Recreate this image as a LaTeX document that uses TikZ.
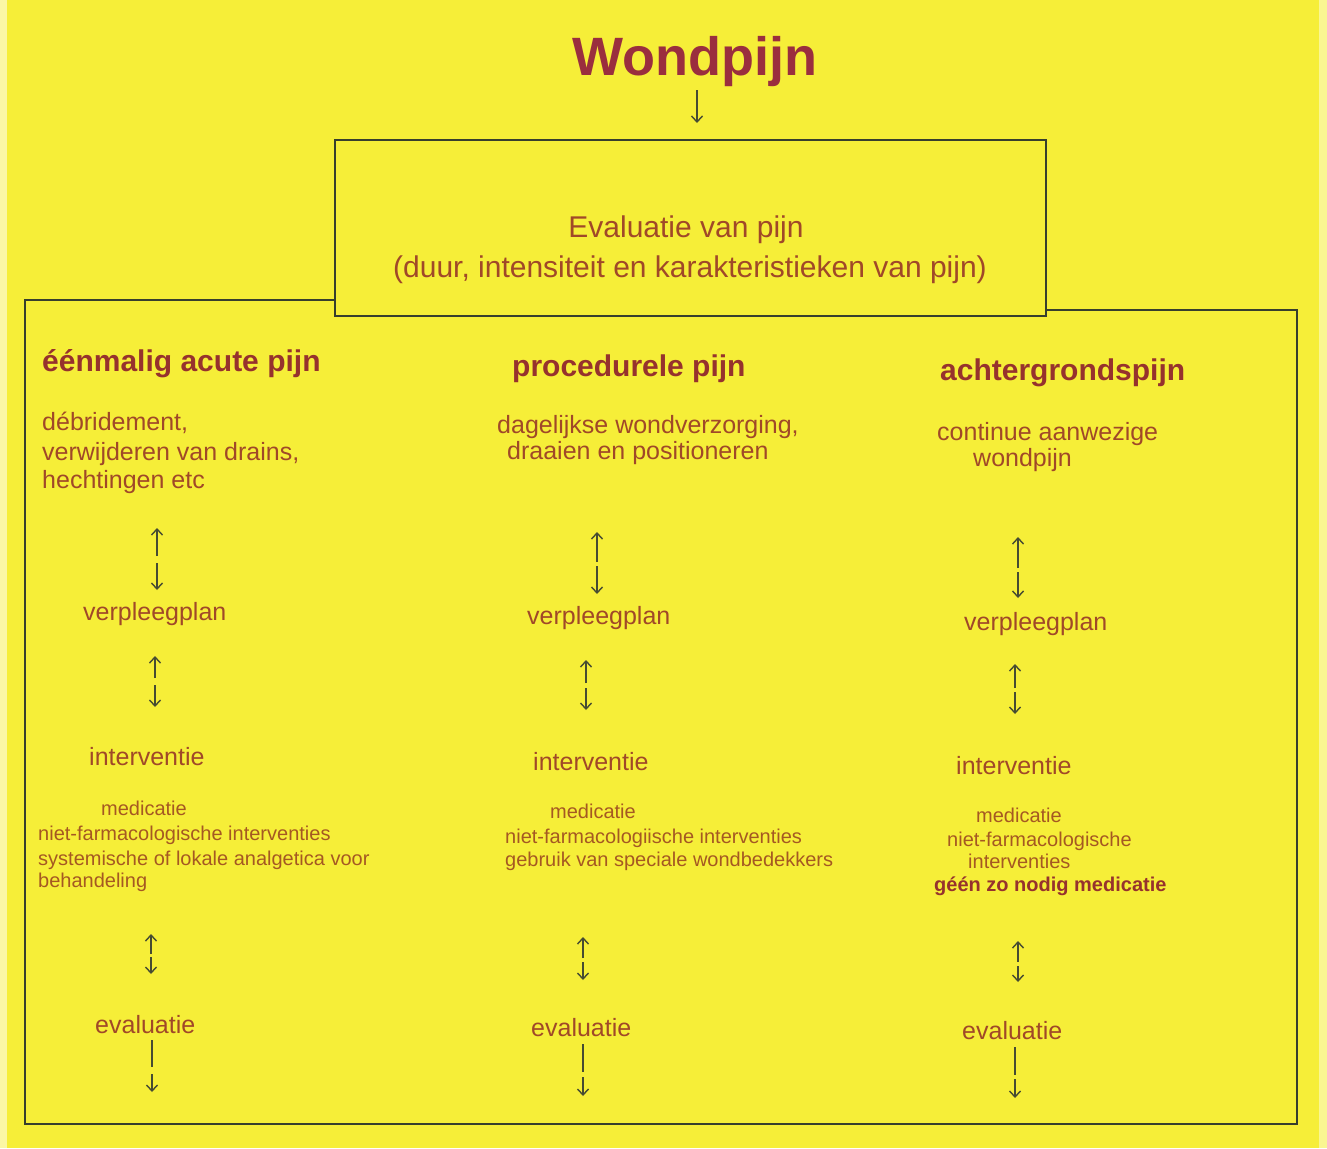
\documentclass[tikz,border=0pt]{standalone}
\usepackage{fontspec}
\setmainfont{Liberation Sans}
\usetikzlibrary{arrows.meta}
\definecolor{bg}{RGB}{246,238,56}
\definecolor{titlec}{RGB}{154,46,62}
\definecolor{headc}{RGB}{150,50,45}
\definecolor{bodyc}{RGB}{160,72,40}
\definecolor{smallc}{RGB}{165,88,34}
\definecolor{linec}{RGB}{55,62,45}
\definecolor{arrc}{RGB}{70,75,50}
\tikzset{
  every node/.style={inner sep=0pt},
  tx/.style={anchor=base west},
  tc/.style={anchor=base},
  ttl/.style={font=\fontsize{54}{60}\selectfont\bfseries, text=titlec},
  bxt/.style={font=\fontsize{30}{36}\selectfont, text=bodyc},
  hdr/.style={font=\fontsize{30}{36}\selectfont\bfseries, text=headc},
  bdy/.style={font=\fontsize{25}{29}\selectfont, text=bodyc},
  sml/.style={font=\fontsize{20}{24}\selectfont, text=smallc},
  smlb/.style={font=\fontsize{20}{24}\selectfont\bfseries, text=headc},
  arr/.style={draw=arrc, line width=1.4pt, -{Straight Barb[length=6pt,width=11pt]}},
  seg/.style={draw=arrc, line width=1.4pt},
  frame/.style={draw=linec, line width=1.6pt},
}
\newcommand\updnarr[6]{%
  \coordinate (#1a) at (#2,#3);
  \coordinate (#1b) at (#2,#4);
  \coordinate (#1c) at (#2,#5);
  \coordinate (#1d) at (#2,#6);
  \draw[arr] (#1b) -- (#1a);
  \draw[arr] (#1c) -- (#1d);
}
\newcommand\lineandarr[6]{%
  \coordinate (#1a) at (#2,#3);
  \coordinate (#1b) at (#2,#4);
  \coordinate (#1c) at (#2,#5);
  \coordinate (#1d) at (#2,#6);
  \draw[seg] (#1a) -- (#1b);
  \draw[arr] (#1c) -- (#1d);
}
\begin{document}
\begin{tikzpicture}[x=1pt,y=-1pt]
\useasboundingbox (0,0) rectangle (1327,1148);
\fill[bg] (0,0) rectangle (1327,1148);
\fill[bg!45!white] (0,0) rectangle (7,1148);
\fill[bg!55!white] (1319,0) rectangle (1327,1148);

% title
\node[ttl,tc] (title) at (695,75) {Wondpijn};
\coordinate (ta) at (697,90);
\coordinate (tb) at (697,123);
\draw[arr] (ta) -- (tb);

% evaluation box
\node[frame, minimum width=711pt, minimum height=176pt] (evalbox) at (690.5,228) {};
\node[bxt,tc] (ev1) at (686,237) {Evaluatie van pijn};
\node[bxt,tc] (ev2) at (690,277) {(duur, intensiteit en karakteristieken van pijn)};

% outer frame
\draw[frame] (evalbox.west |- 0,300) -- (25,300) -- (25,1124) -- (1297,1124) -- (1297,310) -- (evalbox.east |- 0,310);

% column 1
\node[hdr,tx] (h1) at (42,371) {éénmalig acute pijn};
\node[bdy,tx] (b1a) at (42,430) {débridement,};
\node[bdy,tx] (b1b) at (42,460) {verwijderen van drains,};
\node[bdy,tx] (b1c) at (42,488) {hechtingen etc};
\updnarr{p1}{157}{528}{556}{563}{590}
\node[bdy,tx] (v1) at (83,620) {verpleegplan};
\updnarr{q1}{155}{656}{678}{685}{707}
\node[bdy,tx] (i1) at (89,765) {interventie};
\node[sml,tx] (m1a) at (101,815) {medicatie};
\node[sml,tx] (m1b) at (38,840) {niet-farmacologische interventies};
\node[sml,tx] (m1c) at (38,865) {systemische of lokale analgetica voor};
\node[sml,tx] (m1d) at (38,887) {behandeling};
\updnarr{r1}{151}{934}{954}{957}{974}
\node[bdy,tx] (e1) at (95,1033) {evaluatie};
\lineandarr{s1}{152}{1040}{1067}{1074}{1092}

% column 2
\node[hdr,tx] (h2) at (512,376) {procedurele pijn};
\node[bdy,tx] (b2a) at (497,433) {dagelijkse wondverzorging,};
\node[bdy,tx] (b2b) at (507,459) {draaien en positioneren};
\updnarr{p2}{597}{532}{562}{566}{594}
\node[bdy,tx] (v2) at (527,624) {verpleegplan};
\updnarr{q2}{586}{660}{683}{688}{710}
\node[bdy,tx] (i2) at (533,770) {interventie};
\node[sml,tx] (m2a) at (550,818) {medicatie};
\node[sml,tx] (m2b) at (505,843) {niet-farmacologiische interventies};
\node[sml,tx] (m2c) at (505,866) {gebruik van speciale wondbedekkers};
\updnarr{r2}{583}{937}{958}{962}{980}
\node[bdy,tx] (e2) at (531,1036) {evaluatie};
\lineandarr{s2}{583}{1044}{1072}{1077}{1096}

% column 3
\node[hdr,tx] (h3) at (940,380) {achtergrondspijn};
\node[bdy,tx] (b3a) at (937,440) {continue aanwezige};
\node[bdy,tx] (b3b) at (973,466) {wondpijn};
\updnarr{p3}{1018}{537}{568}{572}{598}
\node[bdy,tx] (v3) at (964,630) {verpleegplan};
\updnarr{q3}{1015}{664}{688}{692}{714}
\node[bdy,tx] (i3) at (956,774) {interventie};
\node[sml,tx] (m3a) at (976,822) {medicatie};
\node[sml,tx] (m3b) at (947,846) {niet-farmacologische};
\node[sml,tx] (m3c) at (968,868) {interventies};
\node[smlb,tx] (m3d) at (934,891) {géén zo nodig medicatie};
\updnarr{r3}{1018}{941}{962}{966}{982}
\node[bdy,tx] (e3) at (962,1039) {evaluatie};
\lineandarr{s3}{1015}{1047}{1075}{1079}{1098}
\end{tikzpicture}
\end{document}
